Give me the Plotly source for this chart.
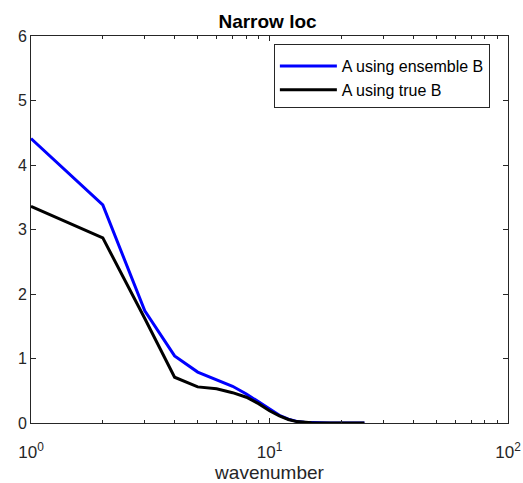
import plotly.graph_objects as go

wavenumber = list(range(1, 26))
ens_B = [4.41, 3.38, 1.74, 1.04, 0.79, 0.67, 0.57, 0.45, 0.33, 0.21, 0.12, 0.06, 0.025, 0.01, 0.004,
         0.002, 0.001, 0.0, 0.0, 0.0, 0.0, 0.0, 0.0, 0.0, 0.0]
true_B = [3.36, 2.87, 1.62, 0.71, 0.56, 0.53, 0.47, 0.40, 0.30, 0.19, 0.11, 0.055, 0.022, 0.008, 0.003,
          0.001, 0.0, 0.0, 0.0, 0.0, 0.0, 0.0, 0.0, 0.0, 0.0]
series_names = ["A using ensemble B", "A using true B"]
series_colors = ["#0000FF", "#000000"]
major_x = [1, 10, 100]
major_x_text = ["10<sup>0</sup>", "10<sup>1</sup>", "10<sup>2</sup>"]
minor_x = [2, 3, 4, 5, 6, 7, 8, 9, 20, 30, 40, 50, 60, 70, 80, 90]
y_ticks = [0, 1, 2, 3, 4, 5, 6]

fig = go.Figure()
for name, ys, col in zip(series_names, [ens_B, true_B], series_colors):
    fig.add_trace(go.Scatter(x=wavenumber, y=ys, mode="lines", name=name,
                             line=dict(color=col, width=3)))

axcol = "#262626"
font_fam = "Liberation Sans, Arial, sans-serif"
fig.update_layout(
    width=523, height=483,
    margin=dict(l=31, r=15, t=36, b=60, autoexpand=False),
    paper_bgcolor="white", plot_bgcolor="white",
    font=dict(family=font_fam, size=16, color=axcol),
    title=dict(text="<b>Narrow loc</b>", x=0.5115, xanchor="center", y=1 - 21 / 483,
               yanchor="middle", font=dict(size=19, color="black")),
    showlegend=True,
    legend=dict(x=0.962, xanchor="right", y=0.979, yanchor="top",
                bgcolor="white", bordercolor=axcol, borderwidth=1,
                font=dict(size=16, color="black"), tracegroupgap=0,
                itemwidth=57,
                title=dict(text=" ", font=dict(size=3))),
    xaxis=dict(
        type="log", range=[0, 2], automargin=False,
        tickvals=minor_x, ticktext=[""] * len(minor_x),
        ticks="inside", ticklen=3, tickcolor=axcol, tickwidth=1,
        showline=True, linecolor=axcol, linewidth=1, mirror="ticks",
        showgrid=False, zeroline=False,
        title=dict(text="wavenumber", font=dict(size=19), standoff=39),
    ),
    xaxis2=dict(
        type="log", range=[0, 2], overlaying="x", anchor="y", side="bottom",
        automargin=False,
        tickvals=major_x, ticktext=major_x_text,
        ticks="inside", ticklen=5, tickcolor=axcol, tickwidth=1, tickfont=dict(size=17),
        ticklabelstandoff=14,
        showline=True, linecolor=axcol, linewidth=1, mirror="ticks",
        showgrid=False, zeroline=False,
    ),
    yaxis=dict(
        range=[0, 6], tickvals=y_ticks, automargin=False,
        ticks="inside", ticklen=5, tickcolor=axcol, tickwidth=1, tickfont=dict(size=16),
        showline=True, linecolor=axcol, linewidth=1, mirror="ticks",
        showgrid=False, zeroline=False,
    ),
)
# invisible helper trace so the overlay axis carrying the decade labels is drawn
fig.add_trace(go.Scatter(x=[wavenumber[0]], y=[ens_B[0]], xaxis="x2", mode="lines",
                         showlegend=False, hoverinfo="skip", line=dict(width=0)))

fig.write_html("out.html")
